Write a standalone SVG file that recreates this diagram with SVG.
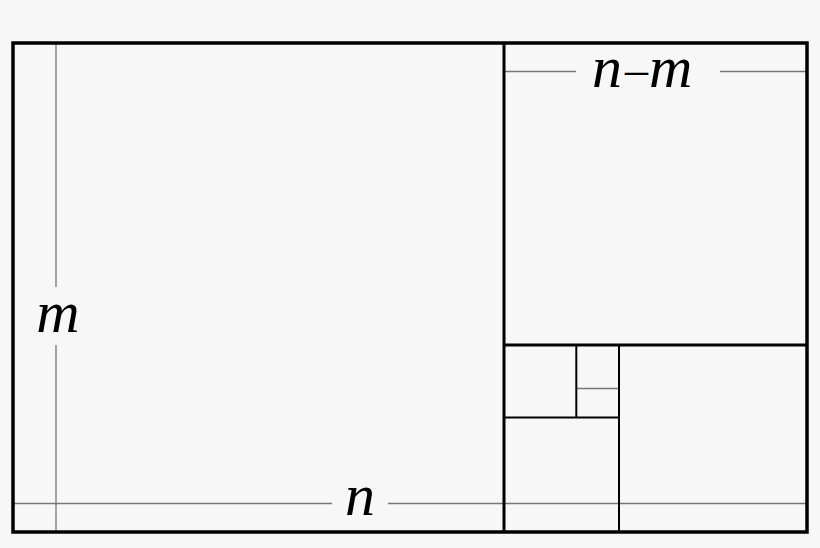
<svg xmlns="http://www.w3.org/2000/svg" width="820" height="548" viewBox="0 0 820 548">
<style>
.thick{stroke:#000;stroke-width:3.5;fill:none}
.med{stroke:#000;stroke-width:3;fill:none}
.thin{stroke:#000;stroke-width:2;fill:none}
.dim{stroke:#777;stroke-width:1.3;fill:none}
.lbl{font-family:"Liberation Serif",serif;font-style:italic;font-size:60px;fill:#000;text-anchor:middle}
</style>
<rect width="820" height="548" fill="#f7f7f7"/>
<g id="dimensions">
<line class="dim" x1="56" y1="43" x2="56" y2="287"/>
<line class="dim" x1="56" y1="345" x2="56" y2="532"/>
<line class="dim" x1="13" y1="503.5" x2="332" y2="503.5"/>
<line class="dim" x1="388" y1="503.5" x2="807" y2="503.5"/>
<line class="dim" x1="504" y1="71.5" x2="576" y2="71.5"/>
<line class="dim" x1="720" y1="71.5" x2="807" y2="71.5"/>
<line class="dim" x1="576" y1="388.5" x2="619" y2="388.5"/>
</g>
<g id="squares">
<line class="med" x1="504" y1="43" x2="504" y2="532"/>
<line class="med" x1="504" y1="345" x2="807" y2="345"/>
<line class="thin" x1="619" y1="345" x2="619" y2="532"/>
<line class="thin" x1="504" y1="417.5" x2="619" y2="417.5"/>
<line class="thin" x1="576.3" y1="345" x2="576.3" y2="417.5"/>
<rect class="thick" x="13" y="43" width="794" height="489"/>
</g>
<g id="labels">
<text class="lbl" x="592" y="87" style="text-anchor:start">n<tspan dx="3" dy="-2" font-size="46">–</tspan><tspan dx="1" dy="2">m</tspan></text>
<text class="lbl" x="58" y="332">m</text>
<text class="lbl" x="360" y="515">n</text>
</g>
</svg>
